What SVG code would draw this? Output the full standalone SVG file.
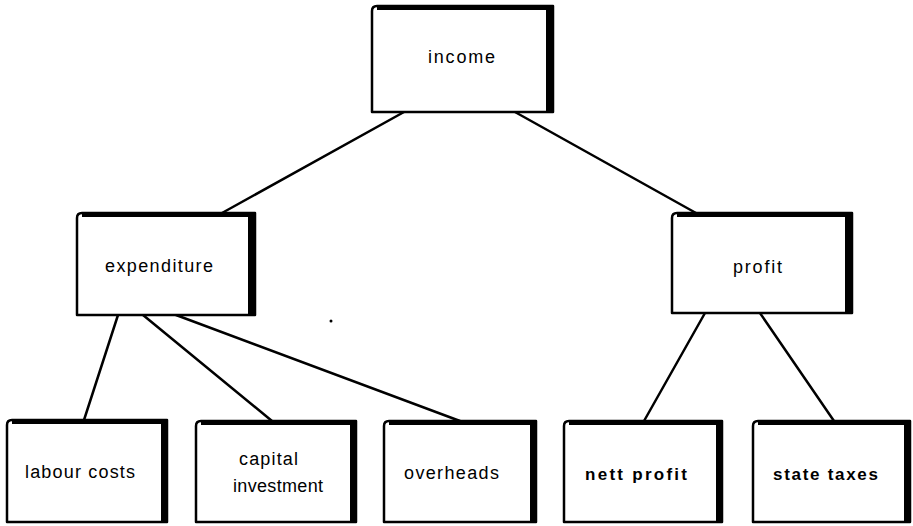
<svg xmlns="http://www.w3.org/2000/svg" width="913" height="526" viewBox="0 0 913 526">
  <style>
    .frame { fill: #fff; stroke: #000; stroke-width: 2.5; stroke-linejoin: round; }
    .band { fill: #000; }
    .link { stroke: #000; stroke-width: 2.5; fill: none; stroke-linecap: round; }
    .lbl { font-family: "Liberation Sans", "DejaVu Sans", sans-serif; font-size: 18px; fill: #000; }
    .bold { font-weight: bold; font-size: 17px; }
  </style>
  <rect x="0" y="0" width="913" height="526" fill="#fff"/>

  <g id="connectors">
    <line class="link" x1="404" y1="112" x2="222" y2="213"/>
    <line class="link" x1="515" y1="112" x2="696" y2="213"/>
    <line class="link" x1="118" y1="315" x2="84" y2="420"/>
    <line class="link" x1="143" y1="315" x2="272" y2="421"/>
    <line class="link" x1="176" y1="315" x2="460" y2="421"/>
    <line class="link" x1="705" y1="313" x2="644" y2="421"/>
    <line class="link" x1="760" y1="313" x2="834" y2="421"/>
  </g>

  <g id="income">
    <path class="frame" d="M372,112 V11 Q372,6 377,6 H553 V112 Z"/>
    <path class="band" d="M377,5 H549 Q553,5 553,9 V108 Q553,112 549,112 H546 V10 H377 Z"/>
    <text class="lbl" x="428" y="63" textLength="67" lengthAdjust="spacing">income</text>
  </g>

  <g id="expenditure">
    <path class="frame" d="M77,315 V218 Q77,213 82,213 H255 V315 Z"/>
    <path class="band" d="M82,212 H251 Q255,212 255,216 V311 Q255,315 251,315 H248 V217 H82 Z"/>
    <text class="lbl" x="105" y="272" textLength="108" lengthAdjust="spacing">expenditure</text>
  </g>

  <g id="profit">
    <path class="frame" d="M672,313 V218 Q672,213 677,213 H852 V313 Z"/>
    <path class="band" d="M677,212 H848 Q852,212 852,216 V309 Q852,313 848,313 H845 V217 H677 Z"/>
    <text class="lbl" x="733" y="273" textLength="49" lengthAdjust="spacing">profit</text>
  </g>

  <g id="labour-costs">
    <path class="frame" d="M7,522 V425 Q7,420 12,420 H167 V522 Z"/>
    <path class="band" d="M12,419 H163 Q167,419 167,423 V518 Q167,522 163,522 H161 V424 H12 Z"/>
    <text class="lbl" x="25" y="478" textLength="110" lengthAdjust="spacing">labour costs</text>
  </g>

  <g id="capital-investment">
    <path class="frame" d="M196,522 V426 Q196,421 201,421 H356 V522 Z"/>
    <path class="band" d="M201,420 H352 Q356,420 356,424 V518 Q356,522 352,522 H350 V425 H201 Z"/>
    <text class="lbl" x="239" y="465" textLength="59" lengthAdjust="spacing">capital</text>
    <text class="lbl" x="233" y="492" textLength="90" lengthAdjust="spacing">investment</text>
  </g>

  <g id="overheads">
    <path class="frame" d="M384,522 V426 Q384,421 389,421 H536 V522 Z"/>
    <path class="band" d="M389,420 H532 Q536,420 536,424 V518 Q536,522 532,522 H530 V425 H389 Z"/>
    <text class="lbl" x="404" y="479" textLength="95" lengthAdjust="spacing">overheads</text>
  </g>

  <g id="nett-profit">
    <path class="frame" d="M564,522 V426 Q564,421 569,421 H722 V522 Z"/>
    <path class="band" d="M569,420 H718 Q722,420 722,424 V518 Q722,522 718,522 H716 V425 H569 Z"/>
    <text class="lbl bold" x="585" y="480" textLength="102" lengthAdjust="spacing">nett profit</text>
  </g>

  <g id="state-taxes">
    <path class="frame" d="M753,522 V426 Q753,421 758,421 H910 V522 Z"/>
    <path class="band" d="M758,420 H906 Q910,420 910,424 V518 Q910,522 906,522 H904 V425 H758 Z"/>
    <text class="lbl bold" x="773" y="480" textLength="105" lengthAdjust="spacing">state taxes</text>
  </g>

  <circle cx="331" cy="321" r="1.5" fill="#000"/>
</svg>
